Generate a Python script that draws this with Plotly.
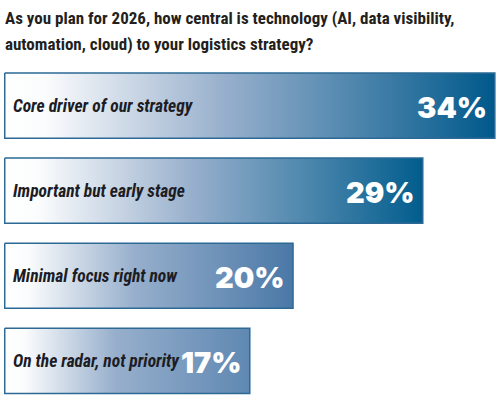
import plotly.graph_objects as go

title_lines = ["As you plan for 2026, how central is technology (AI, data visibility,",
               "automation, cloud) to your logistics strategy?"]

# survey answers, top to bottom
categories = ["Core driver of our strategy", "Important but early stage",
              "Minimal focus right now", "On the radar, not priority"]
shares = [34, 29, 20, 17]
share_labels = ["34%", "29%", "20%", "17%"]

# colour the right end of each bar reaches
end_colors = ["#00598b", "#015d8d", "#4a78a7", "#5f88b2"]

def mix(c1, c2, t):
    a = [int(c1[i:i + 2], 16) for i in (1, 3, 5)]
    b = [int(c2[i:i + 2], 16) for i in (1, 3, 5)]
    return "#" + "".join("%02x" % round(a[k] + (b[k] - a[k]) * t) for k in range(3))

half = 0.383
fig = go.Figure()
for i, (cat, v) in enumerate(zip(categories, shares)):
    end = end_colors[i]
    scale = [[0, "#ffffff"], [0.08, "#fbfcfd"],
             [0.45, mix("#ffffff", "#2f5f9a", 0.5)], [1, end]]
    fig.add_trace(go.Scatter(
        x=[0, v, v, 0, 0], y=[i - half, i - half, i + half, i + half, i - half],
        mode="lines", fill="toself",
        fillgradient=dict(type="horizontal", colorscale=scale, start=0, stop=v),
        line=dict(color="#2d6995", width=1.5),
        hoverinfo="skip", showlegend=False))
    fig.add_annotation(x=0, y=i, text=cat, showarrow=False, xanchor="left",
                       xshift=6, font=dict(family="Roboto Condensed", size=17.5,
                                           color="#1c1c24", style="italic", weight=700))
    fig.add_annotation(x=v, y=i, text=share_labels[i], showarrow=False,
                       xanchor="right", xshift=-6, yshift=-2,
                       font=dict(family="Inter", size=29, color="white", weight=900))

# two title lines above the plot area
for line, shift in zip(title_lines, [45, 19]):
    fig.add_annotation(x=0, xref="paper", y=1, yref="paper", text=line, showarrow=False,
                       xanchor="left", yanchor="middle", xshift=-1, yshift=shift,
                       font=dict(family="Roboto Condensed", size=17, color="#231f20", weight=700))

fig.update_layout(
    width=500, height=400, plot_bgcolor="white", paper_bgcolor="white",
    margin=dict(l=4, r=4, t=63, b=0),
    xaxis=dict(range=[-0.05, 34.08], visible=False),
    yaxis=dict(range=[3.46, -0.5], visible=False),
)
fig.write_html("out.html", post_script="document.body.style.margin='0'",
               config={"displayModeBar": False})
